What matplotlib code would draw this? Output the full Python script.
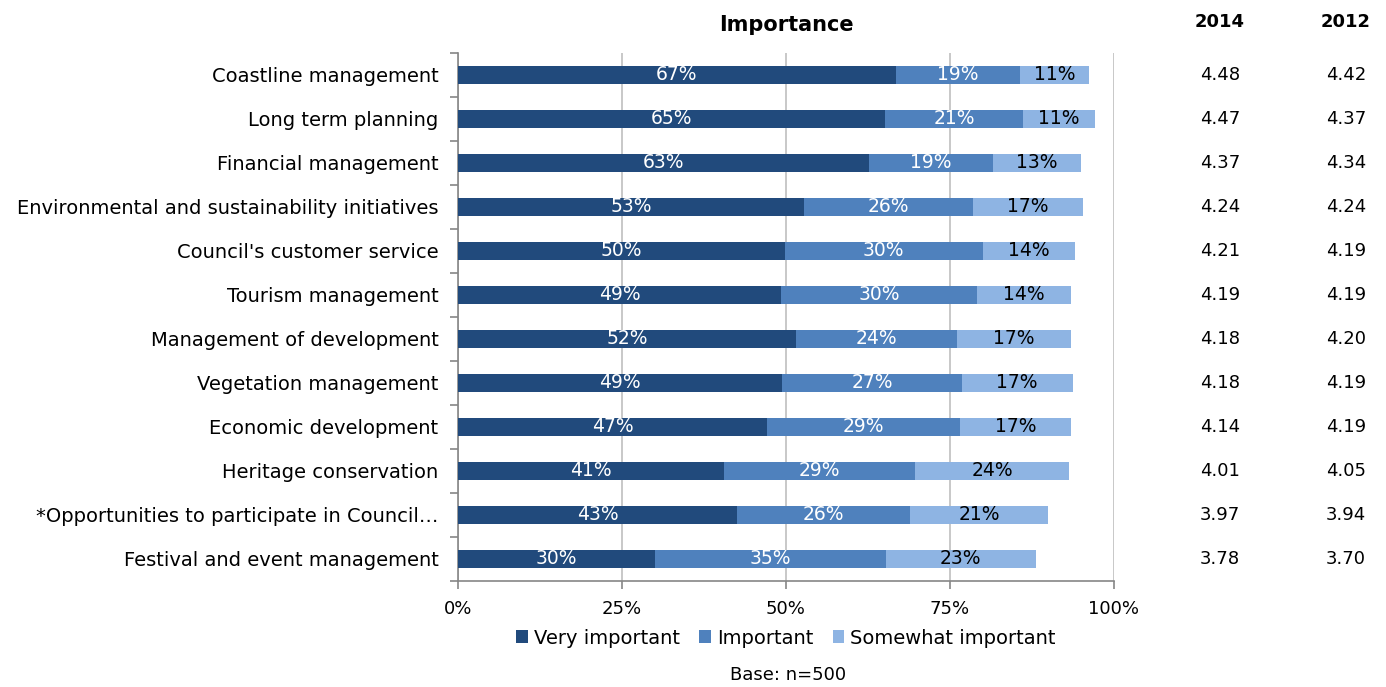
import numpy as np
import matplotlib.pyplot as plt
from matplotlib.transforms import blended_transform_factory

# Data
categories = ["Coastline management", "Long term planning", "Financial management",
              "Environmental and sustainability initiatives", "Council's customer service",
              "Tourism management", "Management of development", "Vegetation management",
              "Economic development", "Heritage conservation",
              "*Opportunities to participate in Council\u2026", "Festival and event management"]
very_important = [66.7, 65.1, 62.7, 52.8, 49.8, 49.2, 51.6, 49.4, 47.1, 40.6, 42.6, 30.1]
important = [18.9, 21.0, 18.8, 25.7, 30.2, 29.9, 24.4, 27.4, 29.4, 29.0, 26.3, 35.1]
somewhat = [10.6, 11.0, 13.4, 16.8, 14.1, 14.4, 17.4, 16.9, 17.0, 23.6, 21.1, 22.9]
score_2014 = ["4.48", "4.47", "4.37", "4.24", "4.21", "4.19", "4.18", "4.18", "4.14", "4.01", "3.97", "3.78"]
score_2012 = ["4.42", "4.37", "4.34", "4.24", "4.19", "4.19", "4.20", "4.19", "4.19", "4.05", "3.94", "3.70"]

series = [("Very important", very_important, "#214A7C", "white"),
          ("Important", important, "#4F81BD", "white"),
          ("Somewhat important", somewhat, "#8EB4E3", "black")]

plt.rcParams['font.family'] = ['DejaVu Sans']

fig = plt.figure(figsize=(13.86, 6.87), dpi=100)
ax = fig.add_axes([458 / 1386, 106 / 687, 656 / 1386, 528 / 687])

y = np.arange(len(categories))
left = np.zeros(len(categories))
for name, vals, color, tcolor in series:
    vals = np.array(vals)
    ax.barh(y, vals, left=left, height=0.39, color=color, label=name, zorder=3)
    for yi, l, v in zip(y, left, vals):
        ax.text(l + v / 2, yi, f"{v:.0f}%", ha="center", va="center",
                color=tcolor, fontsize=13.5, zorder=4)
    left += vals

ax.set_xlim(0, 100)
ax.set_ylim(len(categories) - 0.5, -0.5)
ax.set_xticks([0, 25, 50, 75, 100])
ax.set_xticklabels(["0%", "25%", "50%", "75%", "100%"], fontsize=13)
ax.set_yticks(y)
ax.set_yticklabels(categories, fontsize=14)
ax.set_yticks(np.arange(-0.5, len(categories), 1), minor=True)
ax.tick_params(axis="y", which="major", length=0, pad=14)
ax.tick_params(axis="y", which="minor", length=6, color="#868686", width=1.2)
ax.tick_params(axis="x", length=6, color="#868686", width=1.2, pad=8)
ax.grid(axis="x", color="#BFBFBF", linewidth=1.2, zorder=0)
for s in ["top", "right"]:
    ax.spines[s].set_visible(False)
for s in ["left", "bottom"]:
    ax.spines[s].set_color("#868686")
    ax.spines[s].set_linewidth(1.2)

ax.set_title("Importance", fontsize=15, fontweight="bold", pad=16)

# score columns
tr = blended_transform_factory(fig.transFigure, ax.transData)
for xpos, head, vals in [(1220 / 1386, "2014", score_2014), (1346 / 1386, "2012", score_2012)]:
    fig.text(xpos, 1 - 22 / 687, head, ha="center", va="center", fontsize=13, fontweight="bold")
    for yi, v in zip(y, vals):
        ax.text(xpos, yi, v, transform=tr, ha="center", va="center", fontsize=13, clip_on=False)

ax.legend(loc="center", bbox_to_anchor=(0.5, -0.108), ncol=3, frameon=False,
          fontsize=14, handlelength=0.6, handleheight=0.6, handletextpad=0.3, columnspacing=1.0)
fig.text(788 / 1386, 1 - 675 / 687, "Base: n=500", ha="center", va="center", fontsize=13)

fig.savefig("out.png", dpi=100)
